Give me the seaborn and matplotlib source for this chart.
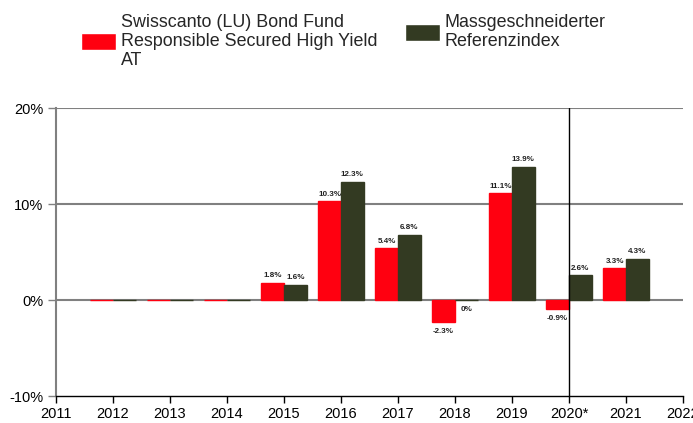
import matplotlib
matplotlib.use("Agg")
import matplotlib.pyplot as plt
import numpy as np
import pandas as pd
import seaborn as sns
from matplotlib.patches import Patch

# Data (annual performance in %)
years = [2012, 2013, 2014, 2015, 2016, 2017, 2018, 2019, 2020, 2021]
fund = [0.0, 0.0, 0.0, 1.8, 10.3, 5.4, -2.3, 11.1, -0.9, 3.3]
index = [0.0, 0.0, 0.0, 1.6, 12.3, 6.8, 0.0, 13.9, 2.6, 4.3]
labelled_from = 2015

fund_name = "Swisscanto (LU) Bond Fund\nResponsible Secured High Yield\nAT"
index_name = "Massgeschneiderter\nReferenzindex"

tick_years = list(range(2011, 2023))
tick_labels = [str(y) if y != 2020 else "2020*" for y in tick_years]

red = "#FF0010"
green = "#333A22"

df = pd.DataFrame({
    "year": years * 2,
    "value": fund + index,
    "series": ["fund"] * len(years) + ["index"] * len(years),
})

sns.set_theme(style="white")
plt.rcParams["font.family"] = ["Liberation Sans", "DejaVu Sans"]

fig = plt.figure(figsize=(6.93, 4.23), dpi=100)
ax = fig.add_axes([56 / 693, 1 - 396 / 423, (683 - 56) / 693, (396 - 108) / 423])

sns.barplot(data=df, x="year", y="value", hue="series", native_scale=True,
            palette={"fund": red, "index": green}, hue_order=["fund", "index"],
            width=0.8, saturation=1, legend=False, ax=ax, zorder=3)
for p in ax.patches:
    p.set_edgecolor(p.get_facecolor())
    p.set_linewidth(1.0)

ax.set_xlim(2011, 2022)
ax.set_ylim(-10, 20)
ax.set_xticks(tick_years)
ax.set_xticklabels(tick_labels)
ax.set_yticks([-10, 0, 10, 20])
ax.set_yticklabels(["-10%", "0%", "10%", "20%"])
ax.set_xlabel("")
ax.set_ylabel("")
ax.tick_params(axis="both", labelsize=10.5, colors="black", length=5, width=1,
               direction="out", left=True, bottom=True, pad=3)
ax.tick_params(axis="y", color="#808080", length=6)

for v in [0, 10, 20]:
    ax.axhline(v, color="#808080", lw=1.5, zorder=2)
ax.axvline(2020, color="black", lw=1, zorder=4)

ax.spines["top"].set_visible(False)
ax.spines["right"].set_visible(False)
ax.spines["left"].set_color("#808080")
ax.spines["left"].set_linewidth(1.5)
ax.spines["bottom"].set_color("black")
ax.spines["bottom"].set_linewidth(1)

# value labels
for vals, off in [(fund, -0.2), (index, 0.2)]:
    for y, v in zip(years, vals):
        if y < labelled_from:
            continue
        dy = 5 if v > 0 else -7
        ax.annotate(f"{v:g}%", (y + off, v), xytext=(0, dy), textcoords="offset points",
                    ha="center", va="center", fontsize=5.8, fontweight="bold",
                    color="#222222", zorder=5)

# two separate legend blocks, top aligned
for color, name, x0 in [(red, fund_name, 81), (green, index_name, 405)]:
    leg = fig.legend([Patch(facecolor=color)], [name], loc="upper left",
                     bbox_to_anchor=(x0 / 693, 1 - 14 / 423), frameon=False, fontsize=12.9,
                     handlelength=1.95, handleheight=1.05, handletextpad=0.28,
                     borderaxespad=0, borderpad=0)
    for t in leg.get_texts():
        t.set_linespacing(1.14)

fig.savefig("out.png", dpi=100)
